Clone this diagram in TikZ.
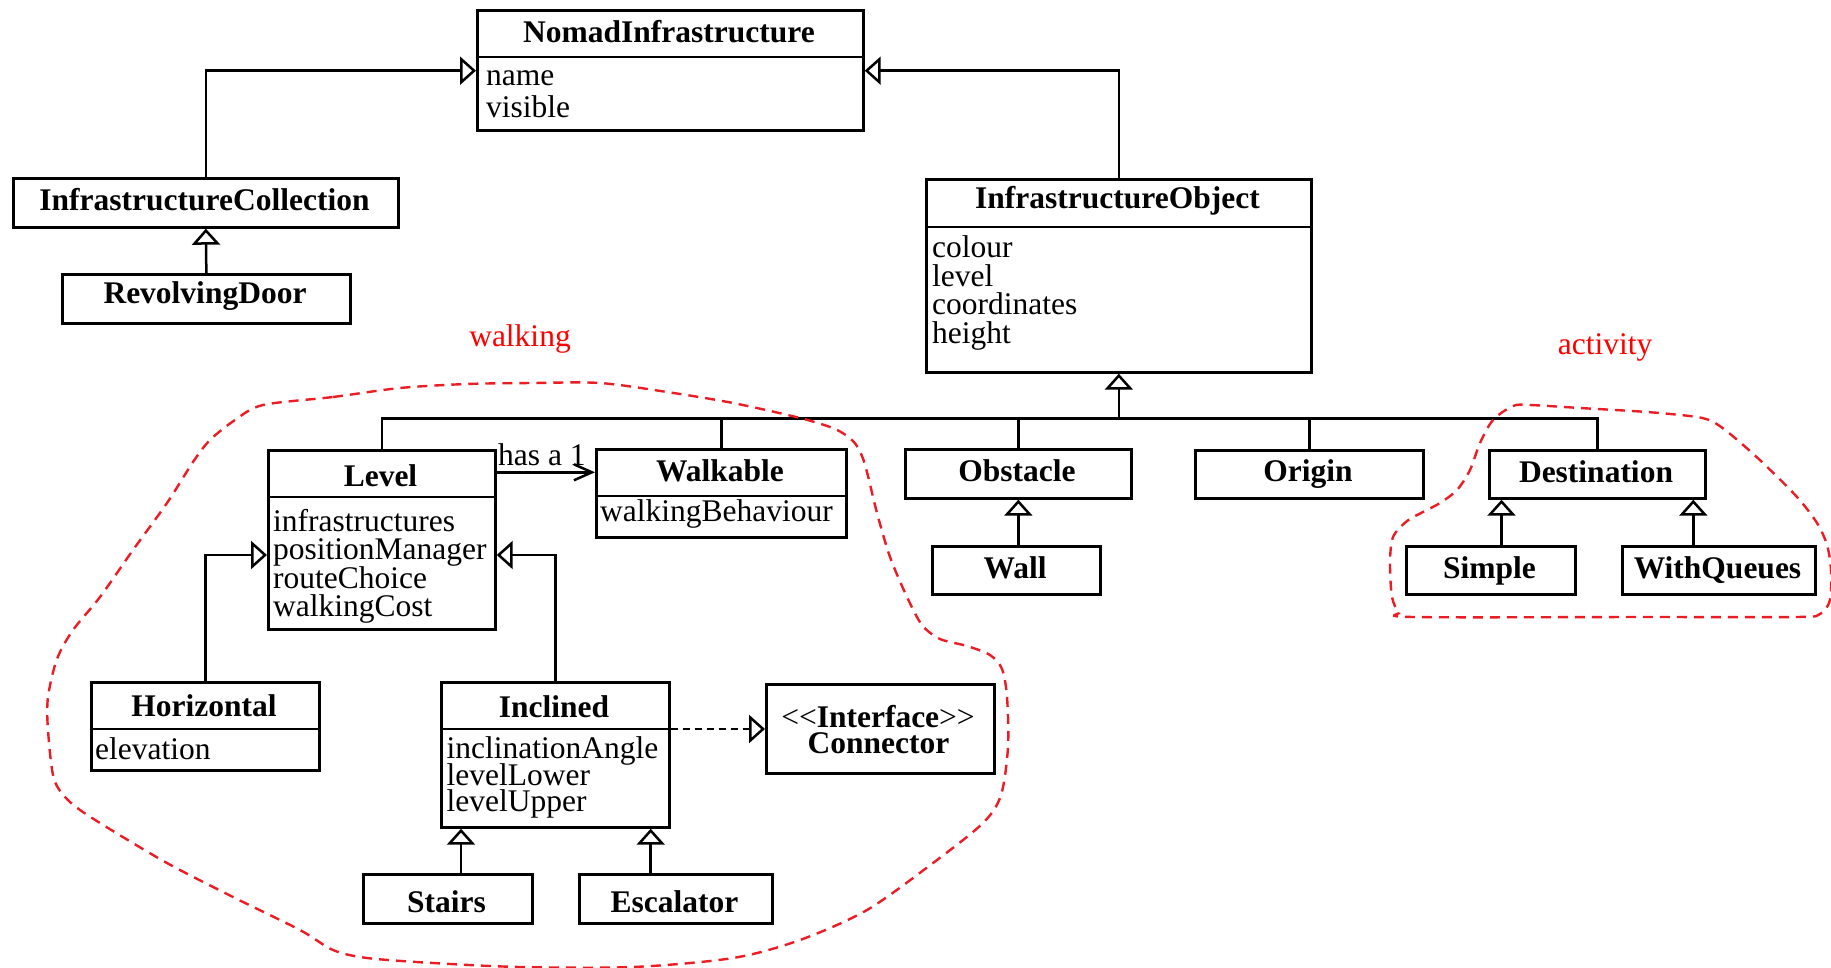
\documentclass[tikz,border=0pt]{standalone}
\usepackage{fontspec}
\setmainfont{Liberation Serif}
\usetikzlibrary{arrows.meta}
\definecolor{grpred}{RGB}{236,28,36}
\newcommand\diagfont{\fontsize{31.5pt}{30pt}\selectfont}
% class box: name, x1, y1, x2, y2 (y grows downwards)
\newcommand\umlbox[5]{%
  \node[cls, minimum width={(#4-#2)*1pt}, minimum height={(#5-#3)*1pt}] (#1) at (#2,#3) {};}
\tikzset{
  cls/.style={draw, line width=2.7pt, inner sep=0pt, anchor=north west},
  sep/.style={line width=2.7pt},
  ttl/.style={font=\diagfont\bfseries, anchor=base, inner sep=0pt},
  att/.style={font=\diagfont, anchor=base west, inner sep=0pt,
              text height=20pt, text depth=4pt},
  lnk/.style={line width=2.5pt},
  gen/.style={lnk, -{Triangle[open, length=16pt, width=28pt]}},
  real/.style={gen, dash pattern=on 7pt off 5pt},
  assoc/.style={lnk, -{Straight Barb[length=18pt, width=16pt]}},
  grp/.style={draw=grpred, line width=2.4pt, dash pattern=on 10pt off 7pt},
  grplabel/.style={font=\diagfont, text=red, anchor=base, inner sep=0pt}
}
\begin{document}
\begin{tikzpicture}[x=1pt, y=-1pt, line join=miter]
\useasboundingbox (0,0) rectangle (1831,968);

% ---- boxes ----
\umlbox{nomad}{476}{9}{862}{129}
\umlbox{coll}{12}{177}{397}{226}
\umlbox{revolve}{61}{273}{349}{322}
\umlbox{io}{925}{178}{1310}{371}
\umlbox{level}{267}{449}{494}{628}
\umlbox{walkable}{595}{448}{845}{536}
\umlbox{obstacle}{904}{448}{1130}{497}
\umlbox{wall}{931}{545}{1099}{593}
\umlbox{origin}{1194}{449}{1422}{497}
\umlbox{dest}{1488}{449}{1704}{497}
\umlbox{simple}{1405}{545}{1574}{593}
\umlbox{withq}{1621}{545}{1814}{593}
\umlbox{horiz}{90}{681}{318}{769}
\umlbox{inclined}{440}{681}{668}{826}
\umlbox{connector}{765}{683}{993}{772}
\umlbox{stairs}{362}{873}{531}{922}
\umlbox{escalator}{578}{873}{771}{922}

% ---- header separators ----
\draw[sep] (nomad.west |- 0,57) -- (nomad.east |- 0,57);
\draw[sep] (io.west |- 0,227) -- (io.east |- 0,227);
\draw[sep] (level.west |- 0,497) -- (level.east |- 0,497);
\draw[sep] (walkable.west |- 0,496) -- (walkable.east |- 0,496);
\draw[sep] (horiz.west |- 0,729) -- (horiz.east |- 0,729);
\draw[sep] (inclined.west |- 0,729) -- (inclined.east |- 0,729);

% ---- class names ----
\node[ttl] (nomad-t) at (669,43) {NomadInfrastructure};
\node[ttl] (coll-t) at (204.5,210.5) {InfrastructureCollection};
\node[ttl] (revolve-t) at (205,303.5) {RevolvingDoor};
\node[ttl] (io-t) at (1117.5,209) {InfrastructureObject};
\node[ttl] (level-t) at (380.5,486) {Level};
\node[ttl] (walkable-t) at (720,481.5) {Walkable};
\node[ttl] (obstacle-t) at (1017,481.5) {Obstacle};
\node[ttl] (wall-t) at (1015,578.5) {Wall};
\node[ttl] (origin-t) at (1308,481.5) {Origin};
\node[ttl] (dest-t) at (1596,482.5) {Destination};
\node[ttl] (simple-t) at (1489.5,578.3) {Simple};
\node[ttl] (withq-t) at (1717.5,578.3) {WithQueues};
\node[ttl] (horiz-t) at (204,716) {Horizontal};
\node[ttl] (inclined-t) at (554,717.3) {Inclined};
\node[ttl] (stairs-t) at (446.5,912.7) {Stairs};
\node[ttl] (escalator-t) at (674.5,912.7) {Escalator};
\node[ttl, text depth=2pt] (connector-s) at (878,727.3)
  {\mdseries<{}<\bfseries Interface\mdseries>{}>};
\node[ttl, text height=20pt] (connector-t) at (878.5,753.3) {Connector};

% ---- attributes ----
\foreach \a [count=\i from 0] in {name,visible}
  \node[att] (nomad-a\i) at (486,86+32*\i) {\a};
\foreach \a [count=\i from 0] in {colour,level,coordinates,height}
  \node[att] (io-a\i) at (932,258+28.4*\i) {\a};
\foreach \a [count=\i from 0] in {infrastructures,positionManager,routeChoice,walkingCost}
  \node[att] (level-a\i) at (273,531.5+28.4*\i) {\a};
\node[att] (walkable-a0) at (600,521.7) {walkingBehaviour};
\node[att] (horiz-a0) at (95,759.3) {elevation};
\foreach \a [count=\i from 0] in {inclinationAngle,levelLower,levelUpper}
  \node[att] (inclined-a\i) at (446.5,758.3+26.7*\i) {\a};

% ---- generalisations ----
\draw[gen] (coll.north) |- (nomad.west |- 0,70.7);
\draw[gen] (io.north) |- (nomad.east |- 0,70.7);
\draw[gen] (revolve.north) -- (coll.south);

\coordinate (bus) at (io.south |- 0,418.3);
\draw[lnk] (level.north) |- (bus);
\draw[lnk] (dest.north) |- (bus);
\draw[lnk] (walkable.north) -- (walkable.north |- bus);
\draw[lnk] (obstacle.north) -- (obstacle.north |- bus);
\draw[lnk] (origin.north) -- (origin.north |- bus);
\draw[gen] (bus) -- (io.south);

\draw[gen] (obstacle.south |- wall.north) -- (obstacle.south);
\draw[gen] (1501.5,0 |- simple.north) -- (1501.5,0 |- dest.south);
\draw[gen] (1693.3,0 |- withq.north) -- (1693.3,0 |- dest.south);

\draw[gen] (horiz.north) |- (level.west |- 0,555);
\draw[gen] (inclined.north) |- (level.east |- 0,555);
\draw[gen] (461,0 |- stairs.north) -- (461,0 |- inclined.south);
\draw[gen] (650.7,0 |- escalator.north) -- (650.7,0 |- inclined.south);

% ---- realisation and association ----
\draw[real] (inclined.east |- 0,729) -- (connector.west |- 0,729);
\draw[assoc] (level.east |- 0,472.3) -- (walkable.west |- 0,472.3);
\node[att] (hasa) at (498,465) {has a 1};

% ---- package groupings ----
\draw[grp] plot[smooth cycle, tension=0.5] coordinates {
  (263,405) (333,397) (400,388) (467,384) (533,383) (600,383) (667,392)
  (733,403) (800,418) (835,429) (853,441) (862,456) (868,476) (877,513)
  (890,557) (907,597) (922,625) (940,639) (967,646) (990,655) (1002,669)
  (1007,697) (1008,747) (1001,795) (983,823) (933,863) (867,910) (800,940)
  (733,958) (633,967) (520,967) (433,963) (367,958) (333,950) (300,930)
  (233,897) (167,863) (100,823) (70,802) (54,779) (48,730) (48,697)
  (57,659) (73,630) (100,597) (133,550) (167,503) (193,462) (210,440)
  (235,420)};
\node[grplabel] (walking) at (520,346) {walking};

\draw[grp] plot[smooth cycle, tension=0.5] coordinates {
  (1513,406) (1530,405) (1580,408) (1647,412) (1697,417) (1715,423)
  (1735,438) (1763,463) (1797,497) (1817,523) (1827,545) (1831,570)
  (1830,600) (1820,614) (1797,617) (1647,617) (1413,617) (1399,612)
  (1392,597) (1390,563) (1393,537) (1407,521) (1423,512) (1440,503)
  (1457,490) (1470,470) (1480,443) (1493,420)};
\node[grplabel] (activity) at (1605,354) {activity};
\end{tikzpicture}
\end{document}
